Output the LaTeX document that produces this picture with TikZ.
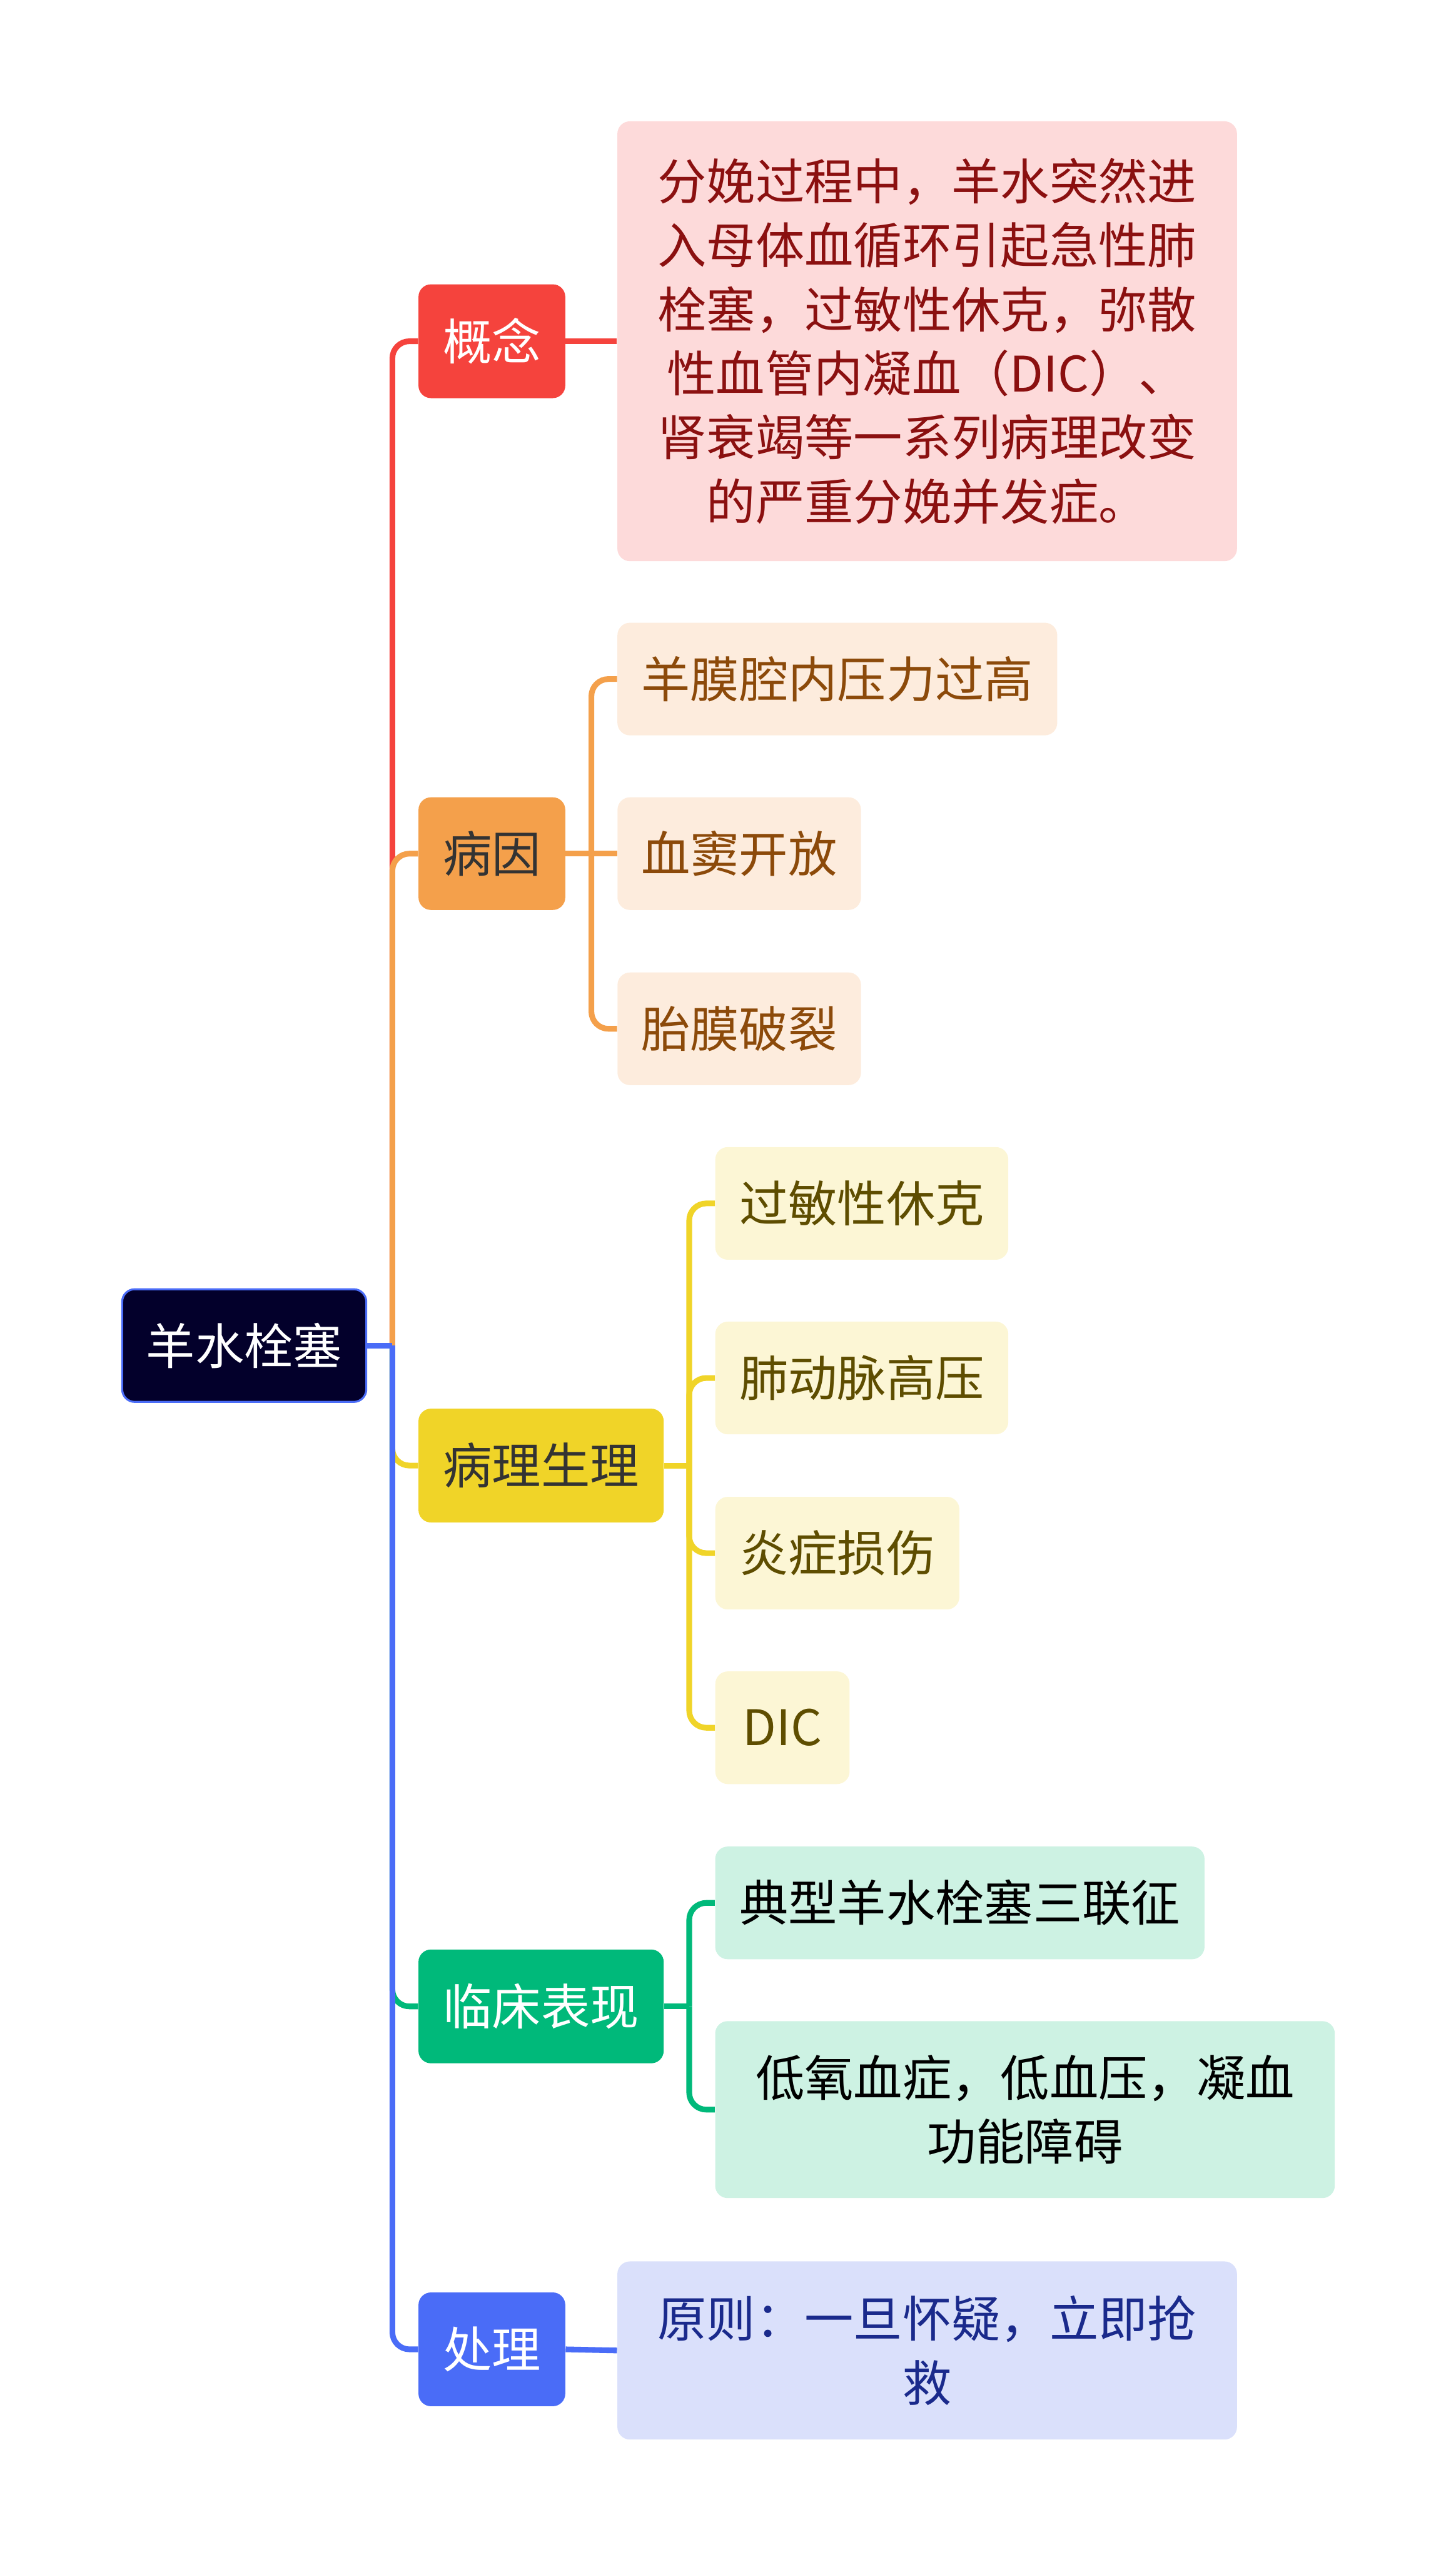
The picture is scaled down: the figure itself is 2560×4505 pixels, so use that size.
\documentclass[tikz,border=0pt]{standalone}
\usepackage{fontspec}
\setmainfont{Noto Sans CJK SC}
\definecolor{rootfill}{HTML}{03002B}
\definecolor{cred}{HTML}{F5433D}
\definecolor{credl}{HTML}{FDDADA}
\definecolor{credt}{HTML}{8B1010}
\definecolor{corg}{HTML}{F4A04B}
\definecolor{corgl}{HTML}{FDECDD}
\definecolor{corgt}{HTML}{8C4A0A}
\definecolor{cyel}{HTML}{F0D428}
\definecolor{cyell}{HTML}{FCF6D5}
\definecolor{cyelt}{HTML}{5E4D00}
\definecolor{cgrn}{HTML}{00B97A}
\definecolor{cgrnl}{HTML}{CDF2E3}
\definecolor{cblu}{HTML}{4A6CF7}
\definecolor{cblul}{HTML}{DAE0FB}
\definecolor{cblut}{HTML}{1A2A8C}
\definecolor{cdark}{HTML}{333333}
\begin{document}
\begin{tikzpicture}[x=0.01cm,y=-0.01cm,
  box/.style={rounded corners=0.22cm, inner sep=0pt, align=center,
    font=\fontsize{24.5}{32}\selectfont, minimum height=1.98cm},
  ln/.style={line width=0.1cm},
  rc/.style={rounded corners=0.3cm}]
\useasboundingbox (0,0) rectangle (2560,4505);

% root
\node[box, fill=rootfill, draw=cblu, line width=0.035cm, minimum width=4.29cm, text=white] (root) at (429.5,2366) {羊水栓塞};

% main branches
\node[box, fill=cred, minimum width=2.58cm, minimum height=2cm, text=white] (gn) at (865,600) {概念};
\node[box, fill=corg, minimum width=2.58cm, text=cdark] (by) at (865,1501) {病因};
\node[box, fill=cyel, minimum width=4.31cm, minimum height=2cm, text=cdark] (bl) at (951.5,2577) {病理生理};
\node[box, fill=cgrn, minimum width=4.31cm, minimum height=2cm, text=white] (lc) at (951.5,3528) {临床表现};
\node[box, fill=cblu, minimum width=2.58cm, minimum height=2cm, text=white] (cl) at (865,4131) {处理};

% leaves
\node[box, fill=credl, minimum width=10.89cm, minimum height=7.73cm, text=credt] (gn1) at (1630.5,600)
  {分娩过程中，羊水突然进\\入母体血循环引起急性肺\\栓塞，过敏性休克，弥散\\性血管内凝血（DIC）、\\肾衰竭等一系列病理改变\\的严重分娩并发症。};

\node[box, fill=corgl, minimum width=7.73cm, text=corgt] (by1) at (1472.5,1194) {羊膜腔内压力过高};
\node[box, fill=corgl, minimum width=4.28cm, text=corgt] (by2) at (1300,1501) {血窦开放};
\node[box, fill=corgl, minimum width=4.28cm, text=corgt] (by3) at (1300,1809) {胎膜破裂};

\node[box, fill=cyell, minimum width=5.15cm, text=cyelt] (bl1) at (1515.5,2116) {过敏性休克};
\node[box, fill=cyell, minimum width=5.15cm, text=cyelt] (bl2) at (1515.5,2423) {肺动脉高压};
\node[box, fill=cyell, minimum width=4.29cm, text=cyelt] (bl3) at (1472.5,2731) {炎症损伤};
\node[box, fill=cyell, minimum width=2.36cm, text=cyelt] (bl4) at (1376,3038) {DIC};

\node[box, fill=cgrnl, minimum width=8.60cm, text=black] (lc1) at (1688,3346) {典型羊水栓塞三联征};
\node[box, fill=cgrnl, minimum width=10.89cm, minimum height=3.11cm, text=black] (lc2) at (1802.5,3709.5) {低氧血症，低血压，凝血\\功能障碍};

\node[box, fill=cblul, minimum width=10.89cm, minimum height=3.13cm, text=cblut] (cl1) at (1630.5,4133) {原则：一旦怀疑，立即抢\\救};

% trunk connectors
\coordinate (j) at (690,2366);
\draw[ln, cred, rc] (j) -- (690,600) -- (gn.west);
\draw[ln, corg, rc] (j) -- (690,1501) -- (by.west);
\draw[ln, cyel, rc] (j) -- (690,2577) -- (bl.west);
\draw[ln, cgrn, rc] (j) -- (690,3528) -- (lc.west);
\draw[ln, cblu, rc] (j) -- (690,4131) -- (cl.west);
\draw[ln, cblu] (root.east) -- (j);

% leaf connectors
\draw[ln, cred] (gn.east) -- (gn1.west);
\draw[ln, cblu] (cl.east) -- (cl1.west);

\coordinate (b1) at (1040,1501);
\draw[ln, corg] (by.east) -- (b1);
\draw[ln, corg, rc] (b1) -- (1040,1194) -- (by1.west);
\draw[ln, corg] (b1) -- (by2.west);
\draw[ln, corg, rc] (b1) -- (1040,1809) -- (by3.west);

\coordinate (b2) at (1212,2577);
\draw[ln, cyel] (bl.east) -- (b2);
\draw[ln, cyel, rc] (b2) -- (1212,2116) -- (bl1.west);
\draw[ln, cyel, rc] (b2) -- (1212,2423) -- (bl2.west);
\draw[ln, cyel, rc] (b2) -- (1212,2731) -- (bl3.west);
\draw[ln, cyel, rc] (b2) -- (1212,3038) -- (bl4.west);

\coordinate (b3) at (1212,3528);
\draw[ln, cgrn] (lc.east) -- (b3);
\draw[ln, cgrn, rc] (b3) -- (1212,3346) -- (lc1.west);
\draw[ln, cgrn, rc] (b3) -- (1212,3709.5) -- (lc2.west);
\end{tikzpicture}
\end{document}
